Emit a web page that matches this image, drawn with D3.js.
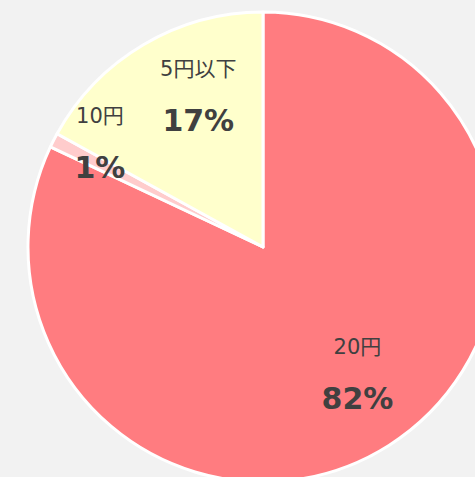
<!DOCTYPE html>
<html>
<head>
<meta charset="utf-8">
<script src="https://cdn.jsdelivr.net/npm/d3@7"></script>
<style>
  html, body { margin: 0; padding: 0; background: #f2f2f2; overflow: hidden; }
  svg { display: block; }
</style>
</head>
<body>
<div id="chart"></div>
<script>
// chart data
const categories = ["20円", "10円", "5円以下"];
const shares = [82, 1, 17];
const sliceColors = ["#ff7c80", "#ffcccc", "#ffffcc"];

const width = 475;
const height = 477;
const cx = 263, cy = 247;
const radius = 235;

// small hand nudges so labels sit like the original
const labelNudge = { "20円": [0, 3], "10円": [-6, 1], "5円以下": [25, 25] };

let svg = d3.select("#chart")
  .append("svg")
  .attr("width", width)
  .attr("height", height);

svg.append("rect")
  .attr("width", width)
  .attr("height", height)
  .attr("fill", "#f2f2f2");

let g = svg.append("g")
  .attr("transform", `translate(${cx},${cy})`);

let pie = d3.pie()
  .sort(null)
  .value(function (d) { return d.value; });

let data = categories.map(function (c, i) {
  return { name: c, value: shares[i], color: sliceColors[i] };
});

let arcs = pie(data);

let arc = d3.arc().innerRadius(0).outerRadius(radius);
let labelArc = d3.arc().innerRadius(radius * 0.75).outerRadius(radius * 0.75);

g.selectAll("path")
  .data(arcs)
  .enter()
  .append("path")
  .attr("d", arc)
  .style("fill", function (d) { return d.data.color; })
  .style("stroke", "#ffffff")
  .style("stroke-width", 3)
  .style("stroke-linejoin", "round");

let labels = g.selectAll(".lbl")
  .data(arcs)
  .enter()
  .append("g")
  .attr("class", "lbl")
  .attr("transform", function (d) {
    const c = labelArc.centroid(d);
    const n = labelNudge[d.data.name] || [0, 0];
    return `translate(${c[0] + n[0]},${c[1] + n[1]})`;
  });

labels.append("text")
  .attr("y", -52)
  .attr("dy", "0.35em")
  .style("text-anchor", "middle")
  .style("font-family", "'DejaVu Sans', 'Noto Sans CJK JP', sans-serif")
  .style("font-size", "21px")
  .style("fill", "#404040")
  .text(function (d) { return d.data.name; });

labels.append("text")
  .attr("y", 0)
  .attr("dy", "0.35em")
  .style("text-anchor", "middle")
  .style("font-family", "'DejaVu Sans', 'Noto Sans CJK JP', sans-serif")
  .style("font-size", "30px")
  .style("font-weight", "bold")
  .style("fill", "#404040")
  .text(function (d) { return d.data.value + "%"; });
</script>
</body>
</html>
